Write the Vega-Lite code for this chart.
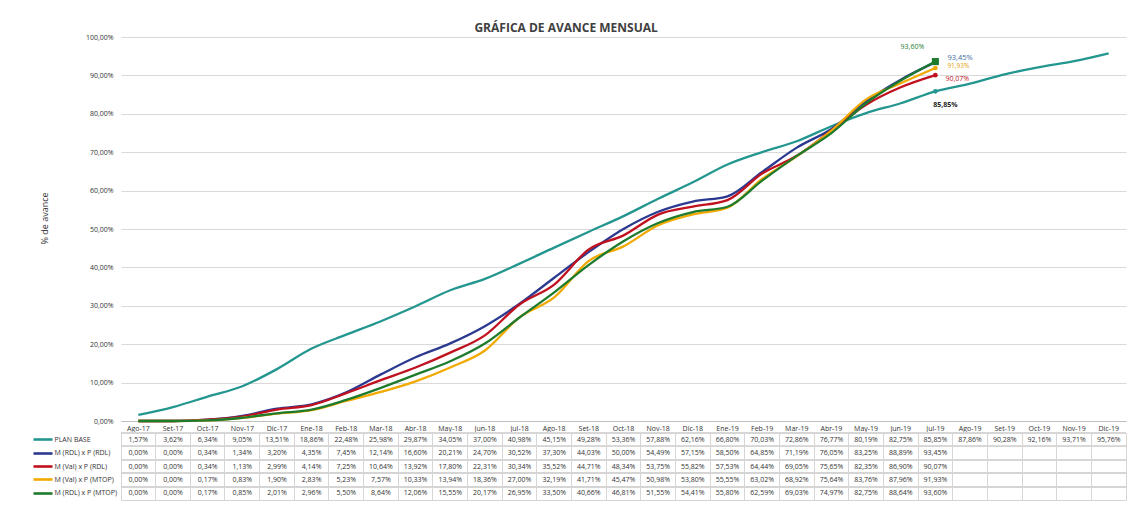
{
  "$schema": "https://vega.github.io/schema/vega-lite/v6.json",
  "title": {"text": "GRÁFICA DE AVANCE MENSUAL", "fontSize": 12, "fontWeight": "bold", "font": "Open Sans", "color": "#404040", "anchor": "middle", "offset": -1.5, "dx": -13},
  "padding": {"left": 31, "top": 21, "right": 1, "bottom": 4},
  "bounds": "flush",
  "spacing": 12,
  "resolve": {"scale": {"x": "shared", "color": "shared"}},
  "config": {
    "locale": {"number": {"decimal": ",", "thousands": ".", "grouping": [3], "currency": ["", " €"]}},
    "view": {"stroke": null},
    "font": "Open Sans"
  },
  "datasets": {
    "d": [
      {"mes": "Ago-17", "serie": "PLAN BASE", "avance": 0.0157},
      {"mes": "Set-17", "serie": "PLAN BASE", "avance": 0.0362},
      {"mes": "Oct-17", "serie": "PLAN BASE", "avance": 0.0634},
      {"mes": "Nov-17", "serie": "PLAN BASE", "avance": 0.0905},
      {"mes": "Dic-17", "serie": "PLAN BASE", "avance": 0.1351},
      {"mes": "Ene-18", "serie": "PLAN BASE", "avance": 0.1886},
      {"mes": "Feb-18", "serie": "PLAN BASE", "avance": 0.2248},
      {"mes": "Mar-18", "serie": "PLAN BASE", "avance": 0.2598},
      {"mes": "Abr-18", "serie": "PLAN BASE", "avance": 0.2987},
      {"mes": "May-18", "serie": "PLAN BASE", "avance": 0.3405},
      {"mes": "Jun-18", "serie": "PLAN BASE", "avance": 0.3700},
      {"mes": "Jul-18", "serie": "PLAN BASE", "avance": 0.4098},
      {"mes": "Ago-18", "serie": "PLAN BASE", "avance": 0.4515},
      {"mes": "Set-18", "serie": "PLAN BASE", "avance": 0.4928},
      {"mes": "Oct-18", "serie": "PLAN BASE", "avance": 0.5336},
      {"mes": "Nov-18", "serie": "PLAN BASE", "avance": 0.5788},
      {"mes": "Dic-18", "serie": "PLAN BASE", "avance": 0.6216},
      {"mes": "Ene-19", "serie": "PLAN BASE", "avance": 0.6680},
      {"mes": "Feb-19", "serie": "PLAN BASE", "avance": 0.7003},
      {"mes": "Mar-19", "serie": "PLAN BASE", "avance": 0.7286},
      {"mes": "Abr-19", "serie": "PLAN BASE", "avance": 0.7677},
      {"mes": "May-19", "serie": "PLAN BASE", "avance": 0.8019},
      {"mes": "Jun-19", "serie": "PLAN BASE", "avance": 0.8275},
      {"mes": "Jul-19", "serie": "PLAN BASE", "avance": 0.8585},
      {"mes": "Ago-19", "serie": "PLAN BASE", "avance": 0.8786},
      {"mes": "Set-19", "serie": "PLAN BASE", "avance": 0.9028},
      {"mes": "Oct-19", "serie": "PLAN BASE", "avance": 0.9216},
      {"mes": "Nov-19", "serie": "PLAN BASE", "avance": 0.9371},
      {"mes": "Dic-19", "serie": "PLAN BASE", "avance": 0.9576},

      {"mes": "Ago-17", "serie": "M (RDL) x P (RDL)", "avance": 0.0},
      {"mes": "Set-17", "serie": "M (RDL) x P (RDL)", "avance": 0.0},
      {"mes": "Oct-17", "serie": "M (RDL) x P (RDL)", "avance": 0.0034},
      {"mes": "Nov-17", "serie": "M (RDL) x P (RDL)", "avance": 0.0134},
      {"mes": "Dic-17", "serie": "M (RDL) x P (RDL)", "avance": 0.0320},
      {"mes": "Ene-18", "serie": "M (RDL) x P (RDL)", "avance": 0.0435},
      {"mes": "Feb-18", "serie": "M (RDL) x P (RDL)", "avance": 0.0745},
      {"mes": "Mar-18", "serie": "M (RDL) x P (RDL)", "avance": 0.1214},
      {"mes": "Abr-18", "serie": "M (RDL) x P (RDL)", "avance": 0.1660},
      {"mes": "May-18", "serie": "M (RDL) x P (RDL)", "avance": 0.2021},
      {"mes": "Jun-18", "serie": "M (RDL) x P (RDL)", "avance": 0.2470},
      {"mes": "Jul-18", "serie": "M (RDL) x P (RDL)", "avance": 0.3052},
      {"mes": "Ago-18", "serie": "M (RDL) x P (RDL)", "avance": 0.3730},
      {"mes": "Set-18", "serie": "M (RDL) x P (RDL)", "avance": 0.4403},
      {"mes": "Oct-18", "serie": "M (RDL) x P (RDL)", "avance": 0.5000},
      {"mes": "Nov-18", "serie": "M (RDL) x P (RDL)", "avance": 0.5449},
      {"mes": "Dic-18", "serie": "M (RDL) x P (RDL)", "avance": 0.5715},
      {"mes": "Ene-19", "serie": "M (RDL) x P (RDL)", "avance": 0.5850},
      {"mes": "Feb-19", "serie": "M (RDL) x P (RDL)", "avance": 0.6485},
      {"mes": "Mar-19", "serie": "M (RDL) x P (RDL)", "avance": 0.7119},
      {"mes": "Abr-19", "serie": "M (RDL) x P (RDL)", "avance": 0.7605},
      {"mes": "May-19", "serie": "M (RDL) x P (RDL)", "avance": 0.8325},
      {"mes": "Jun-19", "serie": "M (RDL) x P (RDL)", "avance": 0.8889},
      {"mes": "Jul-19", "serie": "M (RDL) x P (RDL)", "avance": 0.9345},

      {"mes": "Ago-17", "serie": "M (Val) x P (RDL)", "avance": 0.0},
      {"mes": "Set-17", "serie": "M (Val) x P (RDL)", "avance": 0.0},
      {"mes": "Oct-17", "serie": "M (Val) x P (RDL)", "avance": 0.0034},
      {"mes": "Nov-17", "serie": "M (Val) x P (RDL)", "avance": 0.0113},
      {"mes": "Dic-17", "serie": "M (Val) x P (RDL)", "avance": 0.0299},
      {"mes": "Ene-18", "serie": "M (Val) x P (RDL)", "avance": 0.0414},
      {"mes": "Feb-18", "serie": "M (Val) x P (RDL)", "avance": 0.0725},
      {"mes": "Mar-18", "serie": "M (Val) x P (RDL)", "avance": 0.1064},
      {"mes": "Abr-18", "serie": "M (Val) x P (RDL)", "avance": 0.1392},
      {"mes": "May-18", "serie": "M (Val) x P (RDL)", "avance": 0.1780},
      {"mes": "Jun-18", "serie": "M (Val) x P (RDL)", "avance": 0.2231},
      {"mes": "Jul-18", "serie": "M (Val) x P (RDL)", "avance": 0.3034},
      {"mes": "Ago-18", "serie": "M (Val) x P (RDL)", "avance": 0.3552},
      {"mes": "Set-18", "serie": "M (Val) x P (RDL)", "avance": 0.4471},
      {"mes": "Oct-18", "serie": "M (Val) x P (RDL)", "avance": 0.4834},
      {"mes": "Nov-18", "serie": "M (Val) x P (RDL)", "avance": 0.5375},
      {"mes": "Dic-18", "serie": "M (Val) x P (RDL)", "avance": 0.5582},
      {"mes": "Ene-19", "serie": "M (Val) x P (RDL)", "avance": 0.5753},
      {"mes": "Feb-19", "serie": "M (Val) x P (RDL)", "avance": 0.6444},
      {"mes": "Mar-19", "serie": "M (Val) x P (RDL)", "avance": 0.6905},
      {"mes": "Abr-19", "serie": "M (Val) x P (RDL)", "avance": 0.7565},
      {"mes": "May-19", "serie": "M (Val) x P (RDL)", "avance": 0.8235},
      {"mes": "Jun-19", "serie": "M (Val) x P (RDL)", "avance": 0.8690},
      {"mes": "Jul-19", "serie": "M (Val) x P (RDL)", "avance": 0.9007},

      {"mes": "Ago-17", "serie": "M (Val) x P (MTOP)", "avance": 0.0},
      {"mes": "Set-17", "serie": "M (Val) x P (MTOP)", "avance": 0.0},
      {"mes": "Oct-17", "serie": "M (Val) x P (MTOP)", "avance": 0.0017},
      {"mes": "Nov-17", "serie": "M (Val) x P (MTOP)", "avance": 0.0083},
      {"mes": "Dic-17", "serie": "M (Val) x P (MTOP)", "avance": 0.0190},
      {"mes": "Ene-18", "serie": "M (Val) x P (MTOP)", "avance": 0.0283},
      {"mes": "Feb-18", "serie": "M (Val) x P (MTOP)", "avance": 0.0523},
      {"mes": "Mar-18", "serie": "M (Val) x P (MTOP)", "avance": 0.0757},
      {"mes": "Abr-18", "serie": "M (Val) x P (MTOP)", "avance": 0.1033},
      {"mes": "May-18", "serie": "M (Val) x P (MTOP)", "avance": 0.1394},
      {"mes": "Jun-18", "serie": "M (Val) x P (MTOP)", "avance": 0.1836},
      {"mes": "Jul-18", "serie": "M (Val) x P (MTOP)", "avance": 0.2700},
      {"mes": "Ago-18", "serie": "M (Val) x P (MTOP)", "avance": 0.3219},
      {"mes": "Set-18", "serie": "M (Val) x P (MTOP)", "avance": 0.4171},
      {"mes": "Oct-18", "serie": "M (Val) x P (MTOP)", "avance": 0.4547},
      {"mes": "Nov-18", "serie": "M (Val) x P (MTOP)", "avance": 0.5098},
      {"mes": "Dic-18", "serie": "M (Val) x P (MTOP)", "avance": 0.5380},
      {"mes": "Ene-19", "serie": "M (Val) x P (MTOP)", "avance": 0.5555},
      {"mes": "Feb-19", "serie": "M (Val) x P (MTOP)", "avance": 0.6302},
      {"mes": "Mar-19", "serie": "M (Val) x P (MTOP)", "avance": 0.6892},
      {"mes": "Abr-19", "serie": "M (Val) x P (MTOP)", "avance": 0.7564},
      {"mes": "May-19", "serie": "M (Val) x P (MTOP)", "avance": 0.8376},
      {"mes": "Jun-19", "serie": "M (Val) x P (MTOP)", "avance": 0.8796},
      {"mes": "Jul-19", "serie": "M (Val) x P (MTOP)", "avance": 0.9193},

      {"mes": "Ago-17", "serie": "M (RDL) x P (MTOP)", "avance": 0.0},
      {"mes": "Set-17", "serie": "M (RDL) x P (MTOP)", "avance": 0.0},
      {"mes": "Oct-17", "serie": "M (RDL) x P (MTOP)", "avance": 0.0017},
      {"mes": "Nov-17", "serie": "M (RDL) x P (MTOP)", "avance": 0.0085},
      {"mes": "Dic-17", "serie": "M (RDL) x P (MTOP)", "avance": 0.0201},
      {"mes": "Ene-18", "serie": "M (RDL) x P (MTOP)", "avance": 0.0296},
      {"mes": "Feb-18", "serie": "M (RDL) x P (MTOP)", "avance": 0.0550},
      {"mes": "Mar-18", "serie": "M (RDL) x P (MTOP)", "avance": 0.0864},
      {"mes": "Abr-18", "serie": "M (RDL) x P (MTOP)", "avance": 0.1206},
      {"mes": "May-18", "serie": "M (RDL) x P (MTOP)", "avance": 0.1555},
      {"mes": "Jun-18", "serie": "M (RDL) x P (MTOP)", "avance": 0.2017},
      {"mes": "Jul-18", "serie": "M (RDL) x P (MTOP)", "avance": 0.2695},
      {"mes": "Ago-18", "serie": "M (RDL) x P (MTOP)", "avance": 0.3350},
      {"mes": "Set-18", "serie": "M (RDL) x P (MTOP)", "avance": 0.4066},
      {"mes": "Oct-18", "serie": "M (RDL) x P (MTOP)", "avance": 0.4681},
      {"mes": "Nov-18", "serie": "M (RDL) x P (MTOP)", "avance": 0.5155},
      {"mes": "Dic-18", "serie": "M (RDL) x P (MTOP)", "avance": 0.5441},
      {"mes": "Ene-19", "serie": "M (RDL) x P (MTOP)", "avance": 0.5580},
      {"mes": "Feb-19", "serie": "M (RDL) x P (MTOP)", "avance": 0.6259},
      {"mes": "Mar-19", "serie": "M (RDL) x P (MTOP)", "avance": 0.6903},
      {"mes": "Abr-19", "serie": "M (RDL) x P (MTOP)", "avance": 0.7497},
      {"mes": "May-19", "serie": "M (RDL) x P (MTOP)", "avance": 0.8275},
      {"mes": "Jun-19", "serie": "M (RDL) x P (MTOP)", "avance": 0.8864},
      {"mes": "Jul-19", "serie": "M (RDL) x P (MTOP)", "avance": 0.9360}
    ]
  },
  "vconcat": [
    {
      "width": 1005,
      "height": 384,
      "data": {"name": "d"},
      "encoding": {
        "x": {
          "field": "mes", "type": "ordinal", "bandPosition": 0.5,
          "scale": {"type": "band", "paddingInner": 0, "paddingOuter": 0,
            "domain": ["Ago-17","Set-17","Oct-17","Nov-17","Dic-17","Ene-18","Feb-18","Mar-18","Abr-18","May-18","Jun-18","Jul-18","Ago-18","Set-18","Oct-18","Nov-18","Dic-18","Ene-19","Feb-19","Mar-19","Abr-19","May-19","Jun-19","Jul-19","Ago-19","Set-19","Oct-19","Nov-19","Dic-19"]},
          "axis": {"title": null, "labelAngle": 0, "labelFontSize": 7, "labelColor": "#333333", "labelPadding": 3, "ticks": false, "domainColor": "#bfbfbf", "grid": false}
        },
        "y": {
          "field": "avance", "type": "quantitative",
          "scale": {"domain": [0, 1], "nice": false},
          "axis": {"title": "% de avance", "format": ".2%", "values": [0, 0.1, 0.2, 0.3, 0.4, 0.5, 0.6, 0.7, 0.8, 0.9, 1.0], "labelFontSize": 7, "labelColor": "#333333", "labelPadding": 8, "ticks": false, "domain": false, "gridColor": "#d9d9d9", "titleFontSize": 9, "titleFontWeight": "normal", "titleColor": "#333333", "titlePadding": 36, "titleY": 181}
        },
        "color": {
          "field": "serie", "type": "nominal", "legend": null,
          "scale": {"domain": ["PLAN BASE", "M (RDL) x P (RDL)", "M (Val) x P (RDL)", "M (Val) x P (MTOP)", "M (RDL) x P (MTOP)"],
                    "range": ["#23968f", "#2b3990", "#c0111f", "#f2a900", "#1e7b2e"]}
        }
      },
      "layer": [
        {"mark": {"type": "line", "strokeWidth": 2.3, "interpolate": "monotone"}},
        {
          "transform": [{"filter": "datum.mes === 'Jul-19' && datum.serie !== 'M (RDL) x P (MTOP)'"}],
          "mark": {"type": "point", "filled": true, "size": 22, "opacity": 1}
        },
        {
          "transform": [{"filter": "datum.mes === 'Jul-19' && datum.serie === 'M (RDL) x P (MTOP)'"}],
          "mark": {"type": "point", "filled": true, "shape": "square", "size": 50, "opacity": 1}
        },
        {
          "transform": [{"filter": "datum.mes === 'Jul-19' && datum.serie === 'M (RDL) x P (MTOP)'"}],
          "mark": {"type": "text", "fontSize": 7, "dx": -23, "dy": -15},
          "encoding": {"text": {"field": "avance", "type": "quantitative", "format": ".2%"}, "color": {"value": "#1e7b2e"}}
        },
        {
          "transform": [{"filter": "datum.mes === 'Jul-19' && datum.serie === 'M (RDL) x P (RDL)'"}],
          "mark": {"type": "text", "fontSize": 7.5, "align": "left", "dx": 12, "dy": -4},
          "encoding": {"text": {"field": "avance", "type": "quantitative", "format": ".2%"}, "color": {"value": "#3f6a9e"}}
        },
        {
          "transform": [{"filter": "datum.mes === 'Jul-19' && datum.serie === 'M (Val) x P (MTOP)'"}],
          "mark": {"type": "text", "fontSize": 6.5, "align": "left", "dx": 12, "dy": -2},
          "encoding": {"text": {"field": "avance", "type": "quantitative", "format": ".2%"}, "color": {"value": "#e0a000"}}
        },
        {
          "transform": [{"filter": "datum.mes === 'Jul-19' && datum.serie === 'M (Val) x P (RDL)'"}],
          "mark": {"type": "text", "fontSize": 7, "align": "left", "dx": 10, "dy": 4},
          "encoding": {"text": {"field": "avance", "type": "quantitative", "format": ".2%"}, "color": {"value": "#c0111f"}}
        },
        {
          "transform": [{"filter": "datum.mes === 'Jul-19' && datum.serie === 'PLAN BASE'"}],
          "mark": {"type": "text", "fontSize": 7, "fontWeight": "bold", "dx": 10, "dy": 14},
          "encoding": {"text": {"field": "avance", "type": "quantitative", "format": ".2%"}, "color": {"value": "#222222"}}
        }
      ]
    },
    {
      "width": 1005,
      "height": 67,
      "data": {"name": "d"},
      "view": {"stroke": "#d6d6d6"},
      "layer": [
        {
          "mark": {"type": "rule", "stroke": "#d6d6d6", "strokeWidth": 1},
          "encoding": {
            "y": {
              "field": "serie", "type": "nominal", "bandPosition": 0,
              "scale": {"type": "band", "paddingInner": 0, "paddingOuter": 0, "domain": ["PLAN BASE", "M (RDL) x P (RDL)", "M (Val) x P (RDL)", "M (Val) x P (MTOP)", "M (RDL) x P (MTOP)"]},
              "axis": {"title": null, "orient": "left", "offset": 69, "domain": false, "grid": false, "tickSize": 19, "tickWidth": 2.6, "labelAlign": "left", "labelBaseline": "middle", "labelPadding": -21, "labelFontSize": 7, "labelColor": "#333333", "labelLimit": 300,
                "tickColor": {"expr": "datum.value === 'PLAN BASE' ? '#23968f' : datum.value === 'M (RDL) x P (RDL)' ? '#2b3990' : datum.value === 'M (Val) x P (RDL)' ? '#c0111f' : datum.value === 'M (Val) x P (MTOP)' ? '#f2a900' : '#1e7b2e'"}}
            }
          }
        },
        {
          "mark": {"type": "text", "fontSize": 7, "color": "#333333"},
          "encoding": {
            "x": {
              "field": "mes", "type": "ordinal", "bandPosition": 0.5,
              "scale": {"type": "band", "paddingInner": 0, "paddingOuter": 0,
                "domain": ["Ago-17","Set-17","Oct-17","Nov-17","Dic-17","Ene-18","Feb-18","Mar-18","Abr-18","May-18","Jun-18","Jul-18","Ago-18","Set-18","Oct-18","Nov-18","Dic-18","Ene-19","Feb-19","Mar-19","Abr-19","May-19","Jun-19","Jul-19","Ago-19","Set-19","Oct-19","Nov-19","Dic-19"]},
              "axis": {"title": null, "labels": false, "ticks": false, "domain": false, "grid": true, "bandPosition": 0, "gridColor": "#d6d6d6"}
            },
            "y": {
              "field": "serie", "type": "nominal",
              "scale": {"type": "band", "paddingInner": 0, "paddingOuter": 0, "domain": ["PLAN BASE", "M (RDL) x P (RDL)", "M (Val) x P (RDL)", "M (Val) x P (MTOP)", "M (RDL) x P (MTOP)"]},
              "axis": {"title": null, "orient": "left", "offset": 69, "domain": false, "grid": false, "tickSize": 19, "tickWidth": 2.6, "labelAlign": "left", "labelBaseline": "middle", "labelPadding": -21, "labelFontSize": 7, "labelColor": "#333333", "labelLimit": 300,
                "tickColor": {"expr": "datum.value === 'PLAN BASE' ? '#23968f' : datum.value === 'M (RDL) x P (RDL)' ? '#2b3990' : datum.value === 'M (Val) x P (RDL)' ? '#c0111f' : datum.value === 'M (Val) x P (MTOP)' ? '#f2a900' : '#1e7b2e'"}}
            },
            "text": {"field": "avance", "type": "quantitative", "format": ".2%"}
          }
        }
      ]
    }
  ]
}
